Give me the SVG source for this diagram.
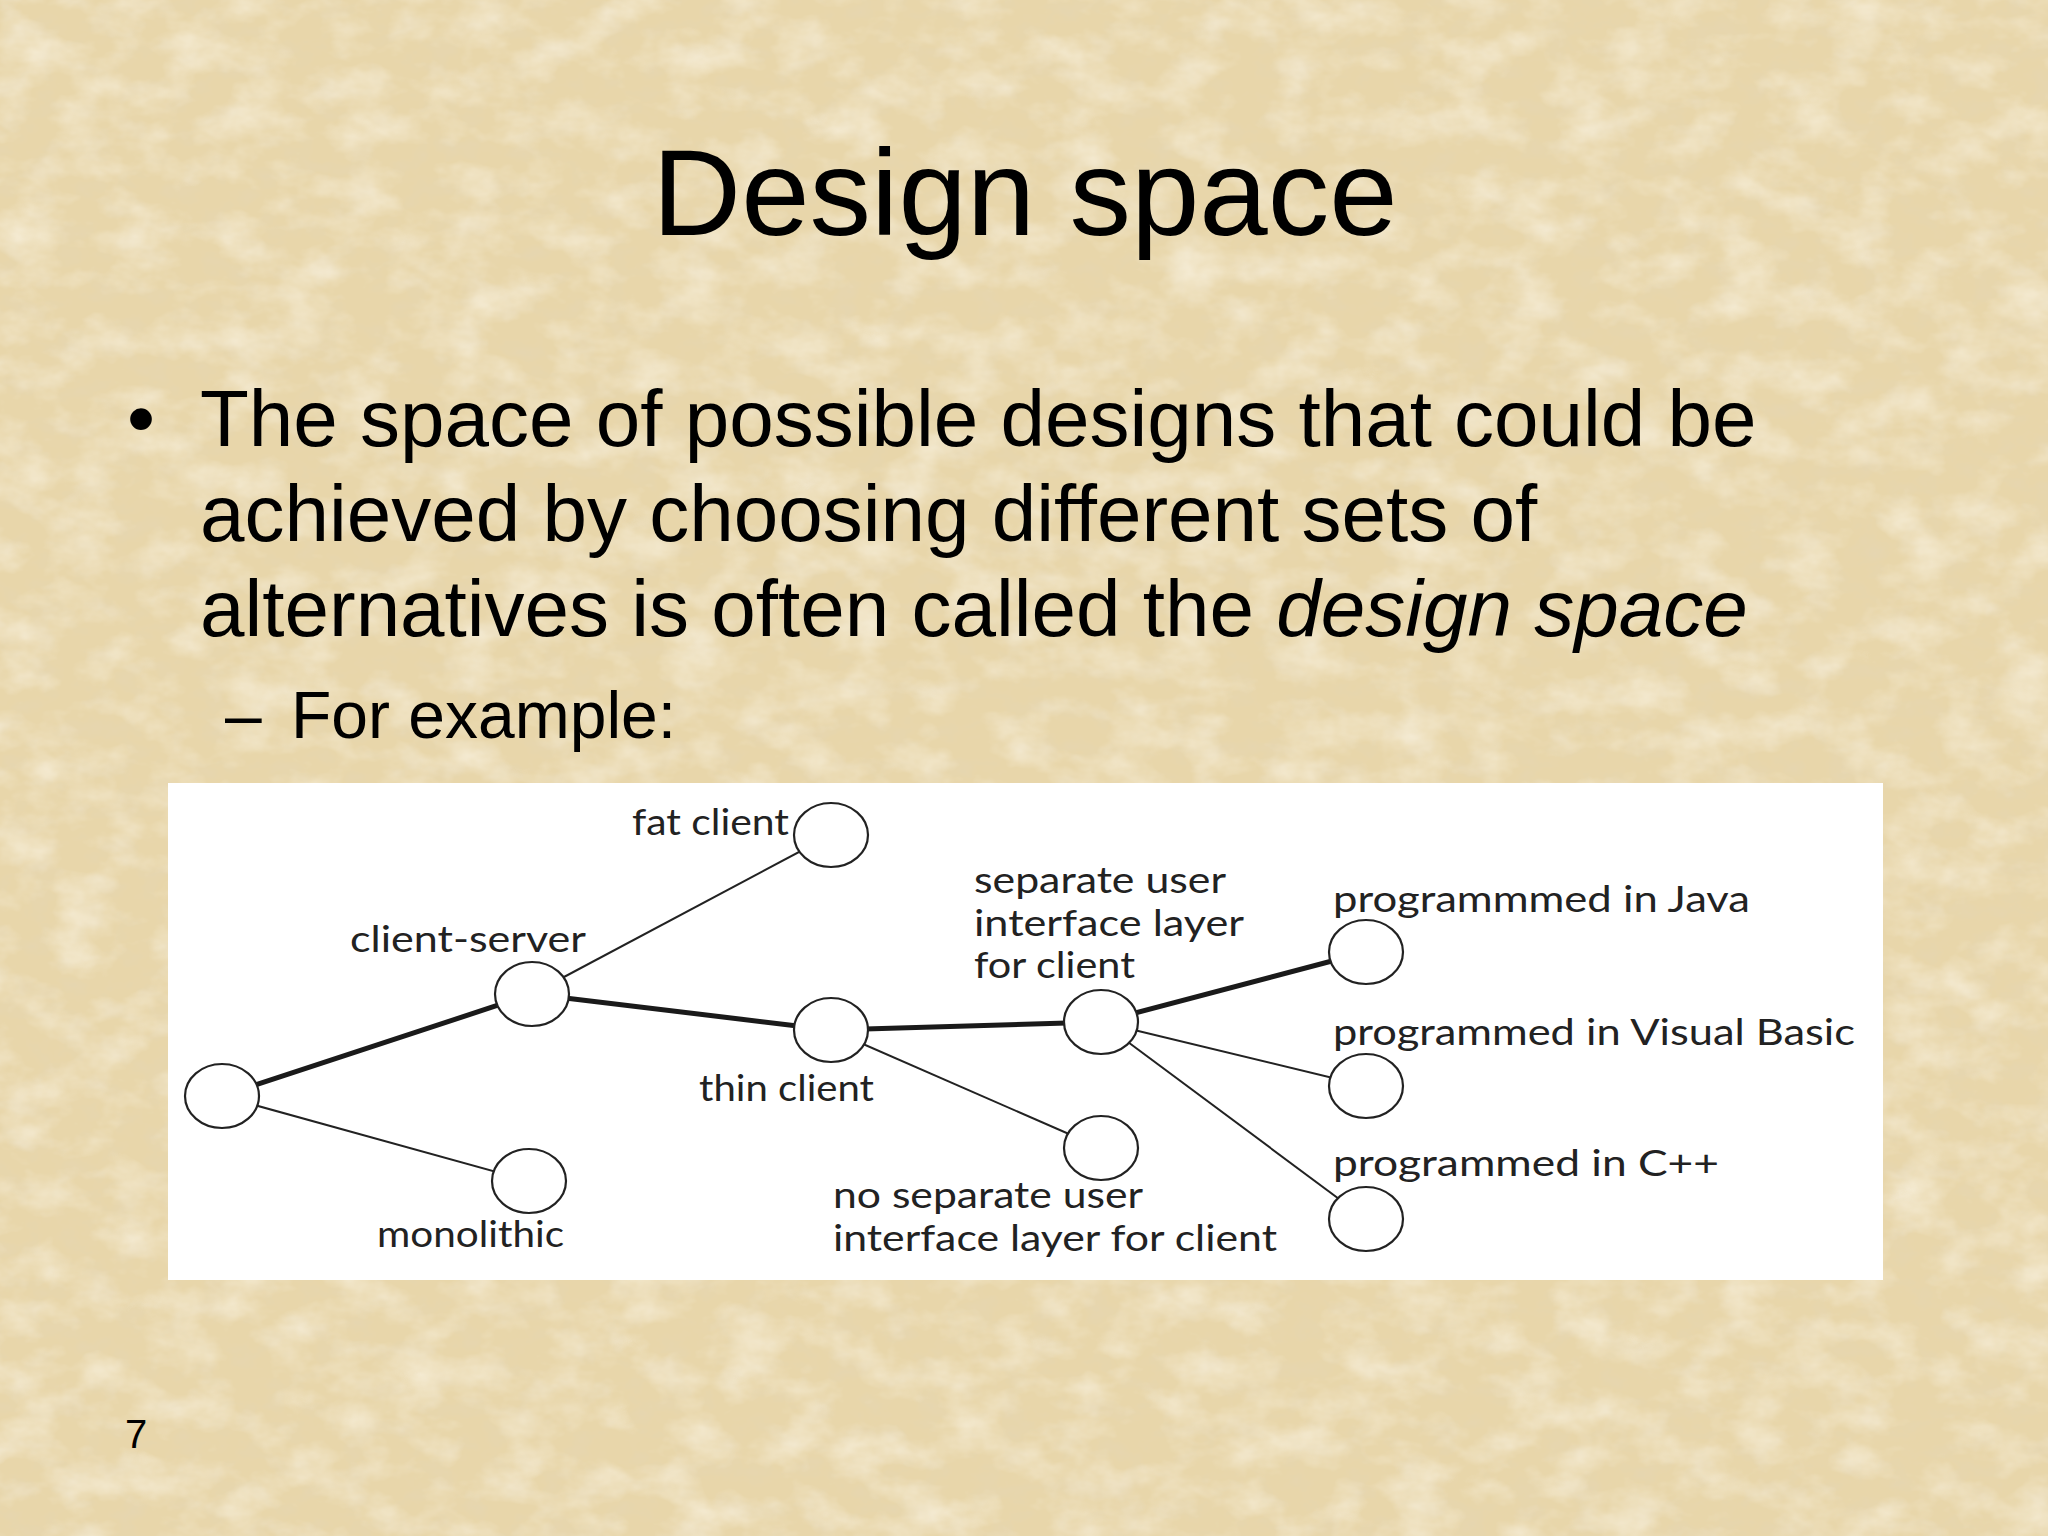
<svg xmlns="http://www.w3.org/2000/svg" width="2048" height="1536" viewBox="0 0 2048 1536">
  <defs>
    <filter id="parchLight" x="0" y="0" width="100%" height="100%">
      <feTurbulence type="fractalNoise" baseFrequency="0.018 0.028" numOctaves="4" seed="3"/>
      <feColorMatrix type="matrix" values="0 0 0 0 0.96  0 0 0 0 0.91  0 0 0 0 0.79  1.3 0 0 0 -0.55"/>
    </filter>
    <filter id="parchDark" x="0" y="0" width="100%" height="100%">
      <feTurbulence type="fractalNoise" baseFrequency="0.035 0.05" numOctaves="3" seed="11"/>
      <feColorMatrix type="matrix" values="0 0 0 0 0.78  0 0 0 0 0.67  0 0 0 0 0.46  1.2 0 0 0 -0.55"/>
    </filter>
    <style>
      .title { font-family: "Liberation Sans", Arial, sans-serif; font-size: 123px; fill: #000; }
      .body { font-family: "Liberation Sans", Arial, sans-serif; font-size: 80px; fill: #000; }
      .sub { font-family: "Liberation Sans", Arial, sans-serif; font-size: 66px; fill: #000; }
      .pg { font-family: "Liberation Sans", Arial, sans-serif; font-size: 40px; fill: #000; }
      .lbl { font-family: Lato, "Open Sans", "DejaVu Sans", sans-serif; font-size: 36px; fill: #222; }
      .node { fill: #fff; stroke: #222; stroke-width: 2.2; }
      .thick { stroke: #1a1a1a; stroke-width: 5; stroke-linecap: round; fill: none; }
      .thin { stroke: #222; stroke-width: 2; fill: none; }
    </style>
  </defs>

  <!-- background -->
  <rect x="0" y="0" width="2048" height="1536" fill="#E8D6AA"/>
  <rect x="0" y="0" width="2048" height="1536" filter="url(#parchDark)"/>
  <rect x="0" y="0" width="2048" height="1536" filter="url(#parchLight)"/>

  <!-- title and body text -->
  <text class="title" x="1025" y="235" text-anchor="middle">Design space</text>
  <text class="body" x="127" y="446">•</text>
  <text class="body" x="200" y="446">The space of possible designs that could be</text>
  <text class="body" x="200" y="541">achieved by choosing different sets of</text>
  <text class="body" x="200" y="636">alternatives is often called the <tspan font-style="italic">design space</tspan></text>
  <text class="sub" x="225" y="738">–</text>
  <text class="sub" x="291" y="738">For example:</text>
  <text class="pg" x="125" y="1448">7</text>

  <!-- diagram panel -->
  <rect x="168" y="783" width="1715" height="497" fill="#fff"/>

  <g id="connectors">
    <line class="thick" x1="222" y1="1096" x2="532" y2="994"/>
    <line class="thin" x1="222" y1="1096" x2="529" y2="1181"/>
    <line class="thin" x1="532" y1="994" x2="831" y2="835"/>
    <line class="thick" x1="532" y1="994" x2="831" y2="1030"/>
    <line class="thick" x1="831" y1="1030" x2="1101" y2="1022"/>
    <line class="thin" x1="831" y1="1030" x2="1101" y2="1148"/>
    <line class="thick" x1="1101" y1="1022" x2="1366" y2="952"/>
    <line class="thin" x1="1101" y1="1022" x2="1366" y2="1086"/>
    <line class="thin" x1="1101" y1="1022" x2="1366" y2="1219"/>
  </g>

  <g id="root">
    <ellipse class="node" cx="222" cy="1096" rx="37" ry="32"/>
  </g>
  <g id="client-server">
    <ellipse class="node" cx="532" cy="994" rx="37" ry="32"/>
    <text class="lbl" x="350" y="952" textLength="236" lengthAdjust="spacingAndGlyphs">client-server</text>
  </g>
  <g id="monolithic">
    <ellipse class="node" cx="529" cy="1181" rx="37" ry="32"/>
    <text class="lbl" x="377" y="1247" textLength="187" lengthAdjust="spacingAndGlyphs">monolithic</text>
  </g>
  <g id="fat-client">
    <ellipse class="node" cx="831" cy="835" rx="37" ry="32"/>
    <text class="lbl" x="632" y="835" textLength="157" lengthAdjust="spacingAndGlyphs">fat client</text>
  </g>
  <g id="thin-client">
    <ellipse class="node" cx="831" cy="1030" rx="37" ry="32"/>
    <text class="lbl" x="699" y="1101" textLength="175" lengthAdjust="spacingAndGlyphs">thin client</text>
  </g>
  <g id="separate-ui">
    <ellipse class="node" cx="1101" cy="1022" rx="37" ry="32"/>
    <text class="lbl" x="974" y="893" textLength="252" lengthAdjust="spacingAndGlyphs">separate user</text>
    <text class="lbl" x="974" y="936" textLength="270" lengthAdjust="spacingAndGlyphs">interface layer</text>
    <text class="lbl" x="974" y="978" textLength="161" lengthAdjust="spacingAndGlyphs">for client</text>
  </g>
  <g id="no-separate-ui">
    <ellipse class="node" cx="1101" cy="1148" rx="37" ry="32"/>
    <text class="lbl" x="833" y="1208" textLength="310" lengthAdjust="spacingAndGlyphs">no separate user</text>
    <text class="lbl" x="833" y="1251" textLength="444" lengthAdjust="spacingAndGlyphs">interface layer for client</text>
  </g>
  <g id="java">
    <ellipse class="node" cx="1366" cy="952" rx="37" ry="32"/>
    <text class="lbl" x="1333" y="912" textLength="417" lengthAdjust="spacingAndGlyphs">programmmed in Java</text>
  </g>
  <g id="visual-basic">
    <ellipse class="node" cx="1366" cy="1086" rx="37" ry="32"/>
    <text class="lbl" x="1333" y="1045" textLength="522" lengthAdjust="spacingAndGlyphs">programmed in Visual Basic</text>
  </g>
  <g id="cpp">
    <ellipse class="node" cx="1366" cy="1219" rx="37" ry="32"/>
    <text class="lbl" x="1333" y="1176" textLength="386" lengthAdjust="spacingAndGlyphs">programmed in C++</text>
  </g>
</svg>
